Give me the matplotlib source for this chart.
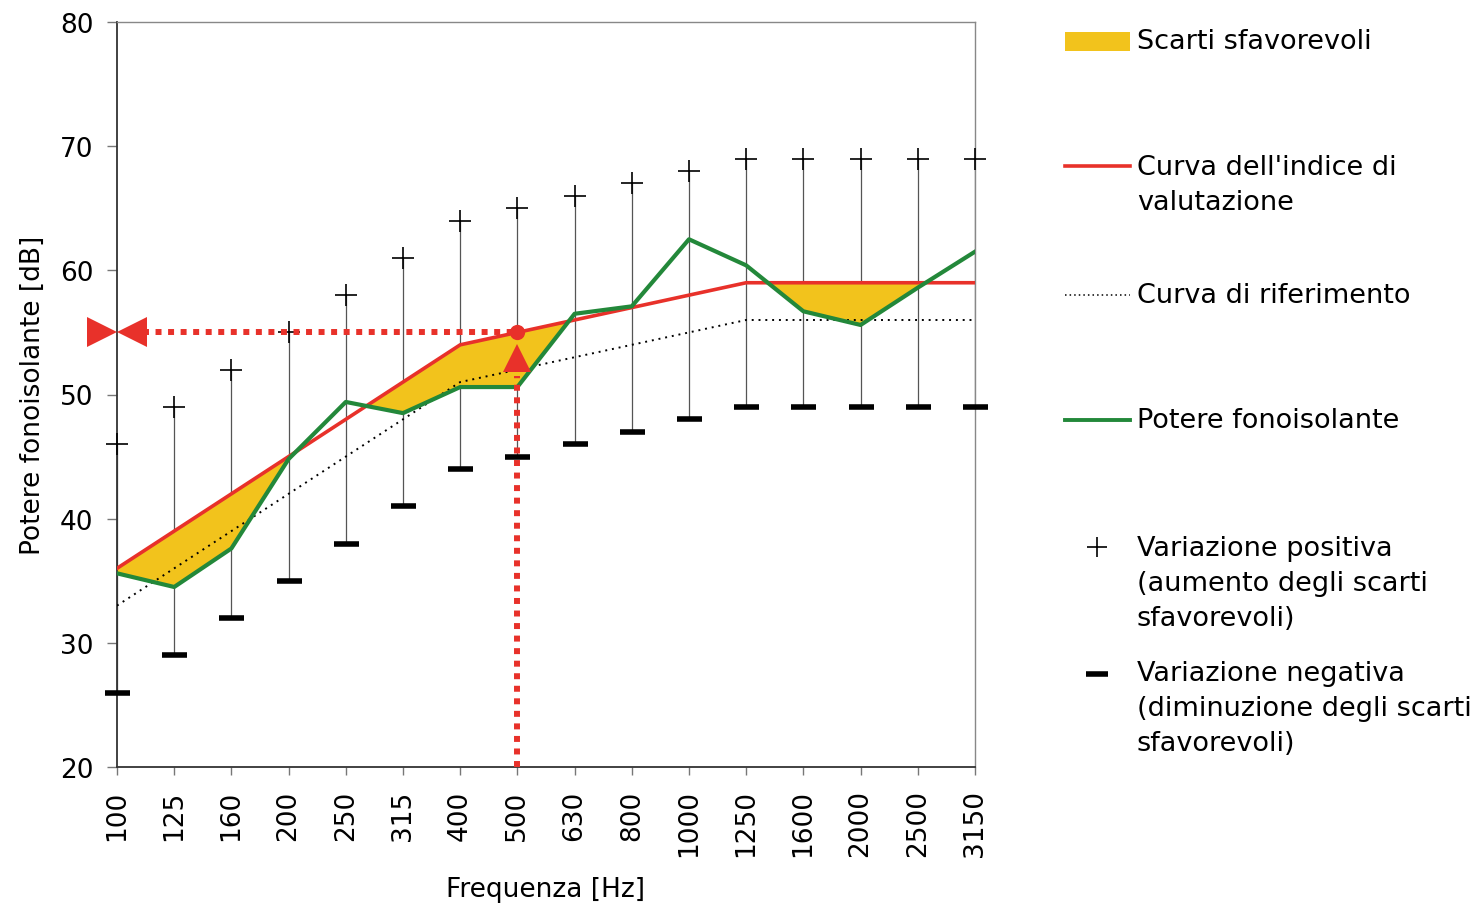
import numpy as np
import matplotlib
matplotlib.use("Agg")
import matplotlib.pyplot as plt
from matplotlib.lines import Line2D

freq_labels = ["100", "125", "160", "200", "250", "315", "400", "500",
               "630", "800", "1000", "1250", "1600", "2000", "2500", "3150"]
riferimento = [33, 36, 39, 42, 45, 48, 51, 52, 53, 54, 55, 56, 56, 56, 56, 56]
indice = [36, 39, 42, 45, 48, 51, 54, 55, 56, 57, 58, 59, 59, 59, 59, 59]
potere = [35.6, 34.5, 37.6, 44.8, 49.4, 48.5, 50.6, 50.6,
          56.5, 57.1, 62.5, 60.4, 56.7, 55.6, 58.6, 61.5]
var_pos = [46, 49, 52, 55, 58, 61, 64, 65, 66, 67, 68, 69, 69, 69, 69, 69]
var_neg = [26, 29, 32, 35, 38, 41, 44, 45, 46, 47, 48, 49, 49, 49, 49, 49]
rw_index = 7
rw_value = 55

RED = "#e8312a"
GREEN = "#23883a"
YELLOW = "#f2c31c"

plt.rcParams['font.family'] = ['DejaVu Sans']
fig = plt.figure(figsize=(14.79, 9.04), dpi=100)
ax = fig.add_axes([0.0791, 0.1504, 0.5801, 0.8242])

x = np.arange(len(freq_labels))
ind = np.array(indice)
pot = np.array(potere)

# linee tra variazione negativa e positiva
ax.vlines(x, var_neg, var_pos, color="#555555", lw=0.9, zorder=1)

ax.fill_between(x, ind, pot, where=pot < ind, interpolate=True,
                color=YELLOW, lw=0, zorder=2)
ax.plot(x, riferimento, color="black", lw=1.4, ls=(0, (1, 2.5)), zorder=3)
ax.plot(x, indice, color=RED, lw=2.6, zorder=4)
ax.plot(x, potere, color=GREEN, lw=3, zorder=5)

ax.plot(x, var_pos, ls="none", marker="+", ms=16, mew=1.2, color="black",
        zorder=6, clip_on=False)
ax.plot(x, var_neg, ls="none", marker="_", ms=18, mew=4, color="black",
        zorder=6, clip_on=False)

# costruzione Rw
ax.plot([0.45, rw_index], [rw_value, rw_value], color=RED, lw=4.3,
        ls=(0, (1, 1.1)), zorder=7, clip_on=False)
ax.plot([rw_index, rw_index], [20, rw_value - 3.5], color=RED, lw=4.3,
        ls=(0, (1, 1.1)), zorder=7, clip_on=False)
ax.plot([-0.27], [rw_value], marker=">", ms=21, color=RED, mew=0,
        clip_on=False, zorder=8)
ax.plot([0.27], [rw_value], marker="<", ms=21, color=RED, mew=0,
        clip_on=False, zorder=8)
ax.plot([rw_index], [rw_value - 2.05], marker="^", ms=20, color=RED, mew=0,
        clip_on=False, zorder=8)
ax.plot([rw_index], [rw_value], marker="o", ms=11, color=RED, mew=0,
        zorder=9, clip_on=False)

ax.set_xlim(0, len(freq_labels) - 1)
ax.set_ylim(20, 80)
ax.set_yticks(np.arange(20, 81, 10))
ax.set_xticks(x)
ax.set_xticklabels(freq_labels, rotation=90, fontsize=19)
ax.tick_params(axis="y", labelsize=19, length=7, color="#777777", width=1, pad=10)
ax.tick_params(axis="x", length=6, color="#777777", width=1, pad=10)
ax.set_ylabel("Potere fonoisolante [dB]", fontsize=19, labelpad=10)
ax.set_xlabel("Frequenza [Hz]", fontsize=19, labelpad=14)
for s in ["top", "right"]:
    ax.spines[s].set_color("#888888")
    ax.spines[s].set_linewidth(1)
for s in ["left", "bottom"]:
    ax.spines[s].set_color("#333333")
    ax.spines[s].set_linewidth(1.3)

# legenda come voci separate
fs = 19.5


def fx(px):
    return px / 1479


def fy(py):
    return 1 - py / 904


fig.patches.append(plt.Rectangle((fx(1065), fy(52)), fx(65), 19 / 904,
                                 transform=fig.transFigure, color=YELLOW, lw=0))
fig.text(fx(1137), fy(42), "Scarti sfavorevoli", fontsize=fs, va="center")

fig.lines.append(Line2D([fx(1065), fx(1130)], [fy(167), fy(167)],
                        transform=fig.transFigure, color=RED, lw=2.6))
fig.text(fx(1137), fy(186), "Curva dell'indice di\nvalutazione", fontsize=fs,
         va="center", linespacing=1.45)

fig.lines.append(Line2D([fx(1065), fx(1130)], [fy(296), fy(296)],
                        transform=fig.transFigure, color="black", lw=1.1,
                        ls=(0, (1, 2))))
fig.text(fx(1137), fy(296), "Curva di riferimento", fontsize=fs, va="center")

fig.lines.append(Line2D([fx(1065), fx(1130)], [fy(421), fy(421)],
                        transform=fig.transFigure, color=GREEN, lw=2.8))
fig.text(fx(1137), fy(421), "Potere fonoisolante", fontsize=fs, va="center")

fig.lines.append(Line2D([fx(1097)], [fy(548)], transform=fig.transFigure,
                        ls="none", marker="+", ms=15, mew=1.2, color="black"))
fig.text(fx(1137), fy(584),
         "Variazione positiva\n(aumento degli scarti\nsfavorevoli)",
         fontsize=fs, va="center", linespacing=1.45)

fig.lines.append(Line2D([fx(1097)], [fy(675)], transform=fig.transFigure,
                        ls="none", marker="_", ms=16, mew=4, color="black"))
fig.text(fx(1137), fy(709),
         "Variazione negativa\n(diminuzione degli scarti\nsfavorevoli)",
         fontsize=fs, va="center", linespacing=1.45)

fig.savefig("out.png", dpi=100)
